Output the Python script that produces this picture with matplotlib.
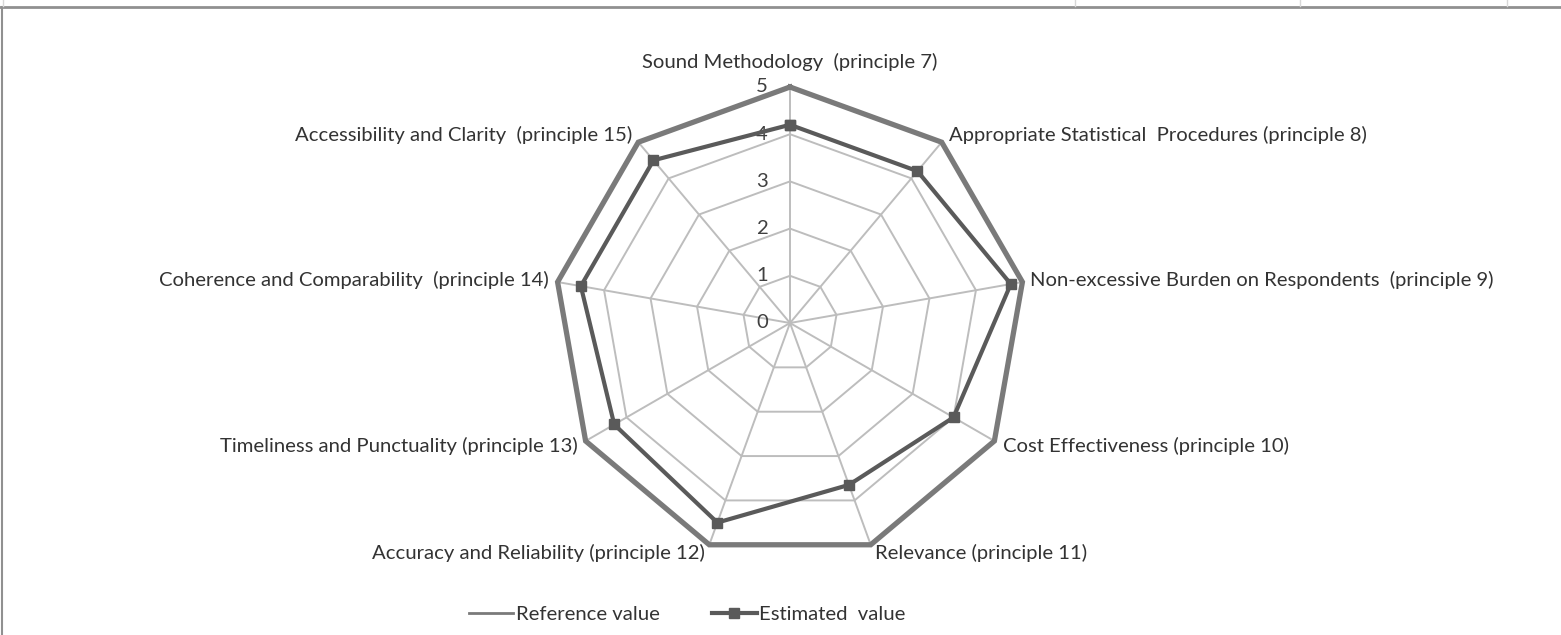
import matplotlib
matplotlib.use("Agg")
import matplotlib.pyplot as plt
from matplotlib.lines import Line2D
import numpy as np

plt.rcParams['font.family'] = ['Lato', 'DejaVu Sans']

categories = [
    "Sound Methodology  (principle 7)",
    "Appropriate Statistical  Procedures (principle 8)",
    "Non-excessive Burden on Respondents  (principle 9)",
    "Cost Effectiveness (principle 10)",
    "Relevance (principle 11)",
    "Accuracy and Reliability (principle 12)",
    "Timeliness and Punctuality (principle 13)",
    "Coherence and Comparability  (principle 14)",
    "Accessibility and Clarity  (principle 15)",
]
reference_value = [5, 5, 5, 5, 5, 5, 5, 5, 5]
estimated_value = [4.2, 4.2, 4.75, 4.0, 3.65, 4.5, 4.3, 4.5, 4.5]
r_ticks = [0, 1, 2, 3, 4, 5]
series_names = ['Reference value', 'Estimated  value']

# label offsets (pixels) from the outer vertex, and alignment
label_offsets = [(0, 25), (7, 7), (8, 2), (9, -5), (4, -8),
                 (-4, -8), (-8, -5), (-9, 2), (-6, 7)]
label_ha = ['center', 'left', 'left', 'left', 'left',
            'right', 'right', 'right', 'right']

W, H = 1561, 635
fig = plt.figure(figsize=(W / 100, H / 100), dpi=100)
fs = 14.6

cx, cy, rad = 790, 323, 236
ax = fig.add_axes([(cx - rad) / W, (H - cy - rad) / H, 2 * rad / W, 2 * rad / H],
                  projection='polar')
ax.set_theta_zero_location('N')
ax.set_theta_direction(-1)
ax.set_ylim(0, 5)
ax.grid(False)
ax.set_xticks([])
ax.set_yticks([])
ax.spines['polar'].set_visible(False)
ax.patch.set_visible(False)

n = len(categories)
theta = np.arange(n) * 2 * np.pi / n
theta_c = np.append(theta, theta[0])

grid_col = '#bdbdbd'
for lv in r_ticks[1:]:
    ax.plot(theta_c, [lv] * (n + 1), color=grid_col, lw=1.4, zorder=1, clip_on=False)
for t in theta:
    ax.plot([t, t], [0, r_ticks[-1]], color=grid_col, lw=1.4, zorder=1, clip_on=False)

ref = reference_value + reference_value[:1]
est = estimated_value + estimated_value[:1]
ax.plot(theta_c, ref, color='#7a7a7a', lw=3.8, zorder=3, clip_on=False,
        solid_joinstyle='miter')
ax.plot(theta_c, est, color='#5a5a5a', lw=3.0, marker='s', ms=7.5, zorder=4,
        clip_on=False)

for lv in r_ticks:
    ax.annotate(str(lv), xy=(0, lv), xytext=(-22, 0), textcoords='offset pixels',
                ha='right', va='center', fontsize=fs, color='#404040')

for i, lab in enumerate(categories):
    ax.annotate(lab, xy=(theta[i], reference_value[i]), xytext=label_offsets[i],
                textcoords='offset pixels', ha=label_ha[i], va='center',
                fontsize=fs, color='#333333', annotation_clip=False)

handles = [Line2D([], [], color='#7a7a7a', lw=2.0),
           Line2D([], [], color='#5a5a5a', lw=3.0, marker='s', ms=7.5)]
fig.legend(handles, series_names, loc='center',
           bbox_to_anchor=(687 / W, 1 - 614 / H), ncol=2,
           frameon=False, fontsize=fs, handlelength=2.2, handletextpad=0.1,
           columnspacing=2.6, labelcolor='#333333')

# sheet border
fig.add_artist(Line2D([0, 1], [1 - 7 / H, 1 - 7 / H], color='#909090', lw=2))
fig.add_artist(Line2D([2 / W, 2 / W], [0, 1 - 7 / H], color='#909090', lw=1.5))
for xs in [3, 1075, 1300, 1507]:
    fig.add_artist(Line2D([xs / W, xs / W], [1 - 6 / H, 1], color='#d8d8d8', lw=1))

fig.savefig('out.png', dpi=100, facecolor='white')
